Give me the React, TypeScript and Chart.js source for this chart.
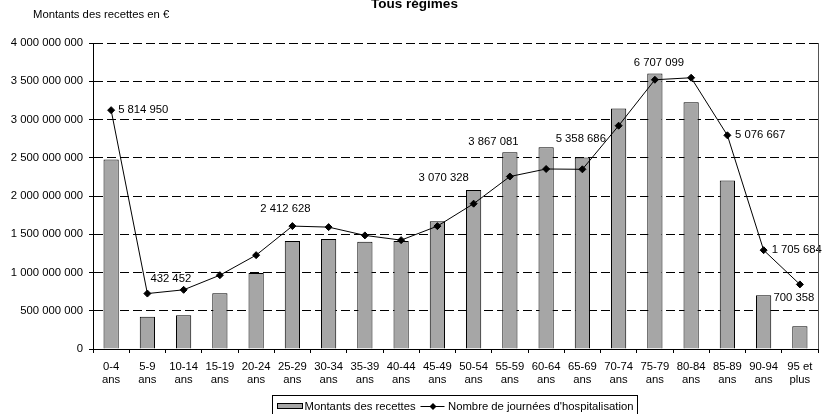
import React, { useEffect, useRef } from "react";
import { Chart, registerables } from "chart.js";

Chart.register(...registerables);

// ---- Data ----
const ageGroups = [
  "0-4", "5-9", "10-14", "15-19", "20-24", "25-29", "30-34", "35-39", "40-44", "45-49",
  "50-54", "55-59", "60-64", "65-69", "70-74", "75-79", "80-84", "85-89", "90-94", "95 et",
];
const ageSuffix = [
  "ans", "ans", "ans", "ans", "ans", "ans", "ans", "ans", "ans", "ans",
  "ans", "ans", "ans", "ans", "ans", "ans", "ans", "ans", "ans", "plus",
];
const montants = [
  2476e6, 421e6, 442e6, 730e6, 992e6, 1411e6, 1437e6, 1403e6, 1411e6, 1669e6,
  2079e6, 2572e6, 2637e6, 2502e6, 3144e6, 3602e6, 3226e6, 2201e6, 704e6, 298e6,
];
const journees = [
  5814950, 432452, 542000, 971000, 1560000, 2412628, 2382000, 2139000, 2000000, 2411000,
  3070328, 3867081, 4088000, 4079000, 5358686, 6707099, 6766000, 5076667, 1705684, 700358,
];
const labelledPoints = [0, 1, 5, 10, 11, 14, 15, 17, 18, 19];

const titleText = "Tous régimes";
const yAxisCaption = "Montants des recettes en €";
const barSeriesName = "Montants des recettes";
const lineSeriesName = "Nombre de journées d'hospitalisation";

const FONT = "'Liberation Sans', Arial, sans-serif";
const FS = 11.3;
const BAR_FILL = "#a6a6a6";

const fmt = (n: number) => Math.round(n).toString().replace(/\B(?=(\d{3})+(?!\d))/g, " ");

// label placement relative to the point (style only)
const labelPlacement: Record<number, { dx: number; dy: number; align: CanvasTextAlign }> = {
  0: { dx: 7, dy: 0, align: "left" },
  1: { dx: 3, dy: -15, align: "left" },
  5: { dx: -7, dy: -17, align: "center" },
  10: { dx: -30, dy: -26, align: "center" },
  11: { dx: -16.5, dy: -35, align: "center" },
  14: { dx: -12.7, dy: 12.7, align: "right" },
  15: { dx: 4, dy: -17, align: "center" },
  17: { dx: 7.7, dy: 0, align: "left" },
  18: { dx: 8, dy: 0, align: "left" },
  19: { dx: -6, dy: 13, align: "center" },
};

const decorPlugin = {
  id: "decor",
  afterDatasetsDraw(chart: any) {
    const ctx = chart.ctx as CanvasRenderingContext2D;
    const meta = chart.getDatasetMeta(0);
    ctx.save();
    ctx.font = `${FS}px ${FONT}`;
    ctx.fillStyle = "#000";
    ctx.textBaseline = "middle";
    labelledPoints.forEach((i) => {
      const pt = meta.data[i];
      const p = labelPlacement[i];
      if (!pt || !p) return;
      ctx.textAlign = p.align;
      ctx.fillText(fmt(journees[i]), pt.x + p.dx, pt.y + p.dy);
    });
    ctx.restore();
  },
  afterDraw(chart: any) {
    const ctx = chart.ctx as CanvasRenderingContext2D;
    const area = chart.chartArea;
    ctx.save();
    // right border of plot area
    ctx.strokeStyle = "#555";
    ctx.lineWidth = 1;
    ctx.beginPath();
    const rx = Math.round(area.right) + 0.5;
    ctx.moveTo(rx, area.top);
    ctx.lineTo(rx, area.bottom);
    ctx.stroke();

    // title
    ctx.fillStyle = "#000";
    ctx.font = `bold 13.5px ${FONT}`;
    ctx.textAlign = "center";
    ctx.textBaseline = "alphabetic";
    ctx.fillText(titleText, 414.5, 7.5);

    // y axis caption
    ctx.font = `${FS}px ${FONT}`;
    ctx.textAlign = "left";
    ctx.fillText(yAxisCaption, 33, 17.5);

    // legend
    ctx.strokeStyle = "#000";
    ctx.strokeRect(272.5, 395.5, 365, 30);
    ctx.fillStyle = BAR_FILL;
    ctx.fillRect(277.5, 403.5, 25, 5);
    ctx.strokeRect(277.5, 403.5, 25, 5);
    ctx.fillStyle = "#000";
    ctx.textBaseline = "middle";
    ctx.fillText(barSeriesName, 304.5, 407);
    ctx.beginPath();
    ctx.moveTo(420.5, 406.5);
    ctx.lineTo(444.5, 406.5);
    ctx.stroke();
    ctx.beginPath();
    ctx.moveTo(433, 403);
    ctx.lineTo(436.5, 406.5);
    ctx.lineTo(433, 410);
    ctx.lineTo(429.5, 406.5);
    ctx.closePath();
    ctx.fill();
    ctx.fillText(lineSeriesName, 448, 407);
    ctx.restore();
  },
};

export default function App() {
  const canvasRef = useRef<HTMLCanvasElement | null>(null);

  useEffect(() => {
    const canvas = canvasRef.current;
    if (!canvas) return;
    const labels = ageGroups.map((g, i) => [g, ageSuffix[i]]);
    const chart = new Chart(canvas, {
      type: "bar",
      data: {
        labels,
        datasets: [
          {
            type: "line",
            label: lineSeriesName,
            data: journees,
            yAxisID: "y2",
            borderColor: "#000",
            backgroundColor: "#000",
            borderWidth: 1,
            pointStyle: "rectRot",
            pointRadius: 3.5,
            pointBorderWidth: 1,
            pointBackgroundColor: "#000",
            pointBorderColor: "#000",
            tension: 0,
            order: 0,
          } as any,
          {
            type: "bar",
            label: barSeriesName,
            data: montants,
            yAxisID: "y",
            backgroundColor: BAR_FILL,
            borderColor: "#000",
            borderWidth: 1,
            categoryPercentage: 1,
            barPercentage: 0.42,
            order: 1,
          } as any,
        ],
      },
      options: {
        responsive: false,
        animation: false,
        events: [],
        layout: { padding: { top: 43, right: 5, bottom: 25, left: 0 } },
        plugins: {
          legend: { display: false },
          title: { display: false },
          tooltip: { enabled: false },
        },
        scales: {
          x: {
            type: "category",
            offset: true,
            grid: {
              display: true,
              drawOnChartArea: false,
              drawTicks: true,
              tickLength: 4,
              color: "#000",
              offset: true,
            },
            border: { display: true, color: "#000", width: 1 },
            ticks: {
              color: "#000",
              font: { family: FONT, size: FS, lineHeight: 1.09 },
              padding: 8,
              maxRotation: 0,
              autoSkip: false,
            },
            afterFit: (scale: any) => {
              scale.height = 40;
            },
          },
          y: {
            position: "left",
            min: 0,
            max: 4e9,
            grid: {
              color: "#000",
              tickLength: 4,
              tickColor: "#000",
              tickBorderDash: [],
            },
            border: { display: true, color: "#000", width: 1, dash: [9, 4] },
            ticks: {
              stepSize: 5e8,
              color: "#000",
              font: { family: FONT, size: FS },
              padding: 6,
              callback: (v: any) => fmt(Number(v)),
            },
            afterFit: (scale: any) => {
              scale.width = 93;
            },
          },
          y2: {
            display: false,
            position: "right",
            min: -1195000,
            max: 7786000,
          },
        },
      },
      plugins: [decorPlugin],
    } as any);
    return () => chart.destroy();
  }, []);

  return (
    <canvas
      ref={canvasRef}
      width={823}
      height={414}
      style={{ position: "fixed", left: 0, top: 0, display: "block", background: "#fff" }}
    />
  );
}
